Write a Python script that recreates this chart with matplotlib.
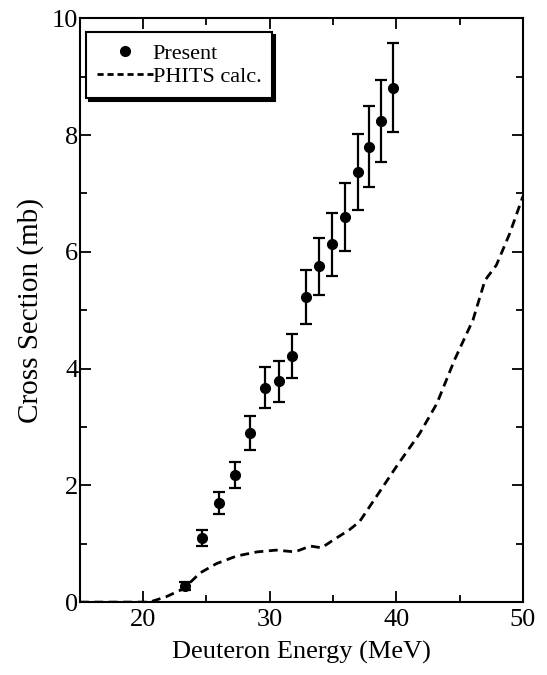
import numpy as np
import matplotlib
matplotlib.use('Agg')
import matplotlib.pyplot as plt
from matplotlib.ticker import MultipleLocator
from matplotlib.lines import Line2D

plt.rcParams['font.family'] = ['Liberation Serif', 'DejaVu Serif']

# measured cross sections
energy = [23.3, 24.65, 26.0, 27.25, 28.45, 29.6, 30.75, 31.75, 32.9, 33.9,
          34.95, 35.95, 36.95, 37.85, 38.8, 39.75]
xs = [0.28, 1.10, 1.70, 2.18, 2.90, 3.67, 3.78, 4.22, 5.22, 5.75,
      6.13, 6.60, 7.37, 7.80, 8.24, 8.81]
xs_err = [0.07, 0.14, 0.19, 0.22, 0.29, 0.35, 0.35, 0.38, 0.46, 0.49,
          0.54, 0.58, 0.65, 0.69, 0.71, 0.76]

# PHITS calculation
calc_e = [15.0, 20.5, 21.8, 23.2, 24.5, 25.8, 27.4, 29.0, 30.5, 32.0, 33.2,
          34.1, 35.0, 36.3, 37.1, 38.4, 40.0, 41.85, 43.2, 44.6, 46.05, 47.0,
          47.9, 48.95, 50.0]
calc_xs = [0.0, 0.0, 0.09, 0.23, 0.50, 0.66, 0.79, 0.86, 0.89, 0.86, 0.96,
           0.93, 1.06, 1.24, 1.38, 1.80, 2.32, 2.89, 3.40, 4.15, 4.83, 5.51,
           5.77, 6.31, 6.95]

dash = (0, (3.2, 2.0))

fig = plt.figure(figsize=(5.47, 6.75), dpi=100)
ax = fig.add_axes([0.146, 0.108, 0.81, 0.865])

ax.plot(calc_e, calc_xs, color='black', lw=2.0, ls=dash)
ax.errorbar(energy, xs, yerr=xs_err, fmt='o', color='black', ms=7,
            elinewidth=1.6, capsize=4, capthick=1.6)

ax.set_xlim(15, 50)
ax.set_ylim(0, 10)
ax.xaxis.set_major_locator(MultipleLocator(10))
ax.xaxis.set_minor_locator(MultipleLocator(5))
ax.yaxis.set_major_locator(MultipleLocator(2))
ax.yaxis.set_minor_locator(MultipleLocator(1))
ax.set_xticks([20, 30, 40, 50])
ax.tick_params(which='both', direction='in', top=True, right=True,
               labelsize=19, width=1.3)
ax.tick_params(which='major', length=8)
ax.tick_params(which='minor', length=5)
ax.tick_params(axis='y', pad=1)
ax.tick_params(axis='x', pad=5)
for s in ax.spines.values():
    s.set_linewidth(1.5)

ax.set_xlabel('Deuteron Energy (MeV)', fontsize=19, labelpad=7)
ax.set_ylabel('Cross Section (mb)', fontsize=21, labelpad=6)

handles = [Line2D([], [], ls='none', marker='o', ms=7, color='black'),
           Line2D([], [], color='black', lw=2.0, ls=(0, (2.2, 1.4)))]
leg = ax.legend(handles, ['Present', 'PHITS calc.'], loc='upper left',
                fontsize=16, handlelength=2.5, handletextpad=0.0,
                borderpad=0.5, borderaxespad=0, labelspacing=0.12,
                fancybox=False, framealpha=1, edgecolor='black',
                bbox_to_anchor=(0.0135, 0.976),
                shadow={'color': 'black', 'alpha': 1})
leg.get_frame().set_linewidth(1.5)

fig.savefig('out.png', dpi=100)
